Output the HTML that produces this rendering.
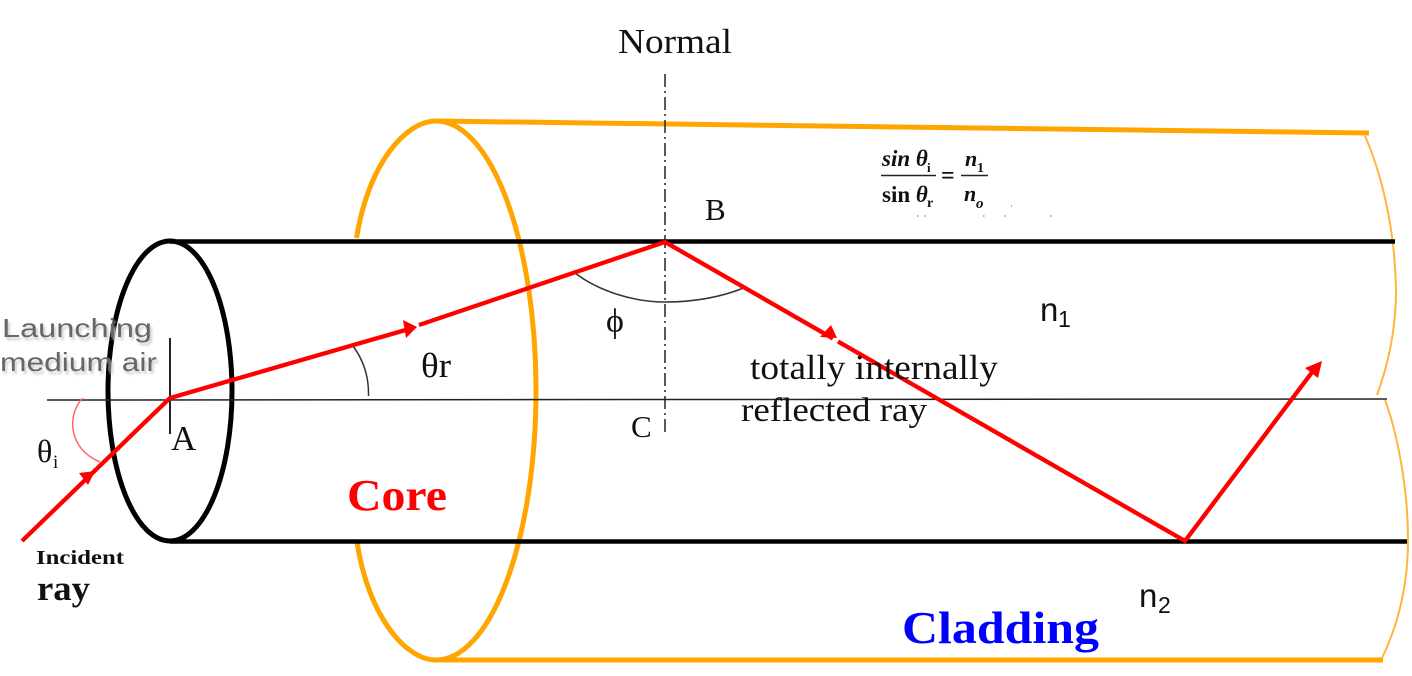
<!DOCTYPE html>
<html>
<head>
<meta charset="utf-8">
<style>
html,body{margin:0;padding:0;background:#fff;width:1412px;height:676px;overflow:hidden}
svg{display:block}
text{font-family:"Liberation Serif",serif;fill:#111}
.s{font-family:"Liberation Sans",sans-serif}
</style>
</head>
<body>
<svg width="1412" height="676" viewBox="0 0 1412 676" xmlns="http://www.w3.org/2000/svg">
<defs><filter id="b" x="-10%" y="-30%" width="120%" height="160%"><feGaussianBlur stdDeviation="1.2"/></filter></defs>
<g fill="none" stroke="#ffa500">
<path d="M436 121L1369 133" stroke-width="5"/>
<path d="M436 660L1383 660" stroke-width="5"/>
<path d="M356.500 238C368 165 405 121 436 121A100 269.500 0 0 1 436 660C405 660 368 615 357 542" stroke-width="5"/>
<path d="M1365 136C1380 170 1395 225 1396 290C1396 330 1388 365 1377 395" stroke="#ffb540" stroke-width="2"/>
<path d="M1385 400C1398 435 1408 490 1408 540C1408 585 1398 625 1382 658" stroke="#ffb540" stroke-width="2"/>
</g>
<g fill="none" stroke="#000">
<ellipse cx="170" cy="391" rx="62" ry="150" stroke-width="5"/>
<path d="M170 241.500H1395" stroke-width="4.500"/>
<path d="M170 541.500H1407" stroke-width="4.500"/>
<path d="M47 400L1387 399" stroke="#222" stroke-width="1.500"/>
<path d="M170 338V434" stroke="#222" stroke-width="2"/>
<path d="M665 74V435" stroke="#222" stroke-width="1.500" stroke-dasharray="13 4 2 4"/>
<path d="M353 346C364 361 369 378 368.500 396" stroke="#333" stroke-width="1.500"/>
<path d="M575 273C600 292 635 302 665 302C695 302 722 297 746 287" stroke="#333" stroke-width="1.500"/>
</g>
<path d="M83 398C68 412 66 448 100 462" fill="none" stroke="#f66" stroke-width="1.500"/>
<g fill="none" stroke="#f00" stroke-width="4.300">
<path d="M22 541L170 398L409 329"/>
<path d="M419 325L665 242L833 338.500"/>
<path d="M838 341.500L1185 541L1313 371"/>
</g>
<g fill="#f00">
<path d="M95 471L79 473L88 485Z"/>
<path d="M417 327L403 320L406 338Z"/>
<path d="M837 338L831 325L820 337Z"/>
<path d="M1322 361L1305 368L1318 378Z"/>
</g>
<text x="618" y="53" font-size="35" textLength="114" lengthAdjust="spacingAndGlyphs">Normal</text>
<text x="705" y="220" font-size="31">B</text>
<text x="171" y="450" font-size="35">A</text>
<text x="631" y="437" font-size="31">C</text>
<text x="421" y="377" font-size="35" textLength="30" lengthAdjust="spacingAndGlyphs">θr</text>
<text x="606" y="332" font-size="34">ϕ</text>
<text x="37" y="462" font-size="32">θ</text>
<text x="53" y="468" font-size="19">i</text>
<text x="750" y="379" font-size="35" textLength="248" lengthAdjust="spacingAndGlyphs">totally internally</text>
<text x="741" y="421" font-size="34" textLength="186" lengthAdjust="spacingAndGlyphs">reflected ray</text>
<text x="347" y="510" font-size="44" font-weight="bold" textLength="100" lengthAdjust="spacingAndGlyphs" style="fill:#f00">Core</text>
<text x="902" y="643" font-size="46" font-weight="bold" textLength="197" lengthAdjust="spacingAndGlyphs" style="fill:#00f">Cladding</text>
<text x="36" y="564" font-size="20" font-weight="bold" textLength="88" lengthAdjust="spacingAndGlyphs">Incident</text>
<text x="37" y="600" font-size="35" font-weight="bold" textLength="53" lengthAdjust="spacingAndGlyphs">ray</text>
<text class="s" x="1040" y="321" font-size="33">n</text>
<text class="s" x="1058" y="327" font-size="23">1</text>
<text class="s" x="1139" y="607" font-size="33">n</text>
<text class="s" x="1158" y="613" font-size="23">2</text>
<g>
<text class="s" x="2" y="337" font-size="26" textLength="150" lengthAdjust="spacingAndGlyphs" style="fill:#ccc" filter="url(#b)" transform="translate(2 3)">Launching</text>
<text class="s" x="0" y="371" font-size="26" textLength="157" lengthAdjust="spacingAndGlyphs" style="fill:#ccc" filter="url(#b)" transform="translate(2 3)">medium air</text>
<text class="s" x="2" y="337" font-size="26" textLength="150" lengthAdjust="spacingAndGlyphs" style="fill:#666">Launching</text>
<text class="s" x="0" y="371" font-size="26" textLength="157" lengthAdjust="spacingAndGlyphs" style="fill:#666">medium air</text>
</g>
<text x="882" y="166" font-size="23" font-weight="bold" font-style="italic">sin θ</text>
<text x="927" y="172" font-size="13" font-weight="bold">i</text>
<text x="882" y="202" font-size="23" font-weight="bold">sin <tspan font-style="italic">θ</tspan></text>
<text x="927" y="207" font-size="14" font-weight="bold">r</text>
<path d="M881 175.500H936M961 175.500H988" stroke="#222" stroke-width="1.500"/>
<text x="941" y="183" font-size="24" font-weight="bold">=</text>
<text x="965" y="166" font-size="22" font-weight="bold" font-style="italic">n</text>
<text x="977" y="172" font-size="14" font-weight="bold">1</text>
<text x="964" y="201" font-size="22" font-weight="bold" font-style="italic">n</text>
<text x="976" y="208" font-size="15" font-weight="bold" font-style="italic">o</text>
<path d="M917 216h1.500M924 216h1.500M983 216h1.500M1004 216h1.500M1050 216h1.500M1011 206h1" stroke="#999" stroke-width="1.500"/>
</svg>
</body>
</html>
